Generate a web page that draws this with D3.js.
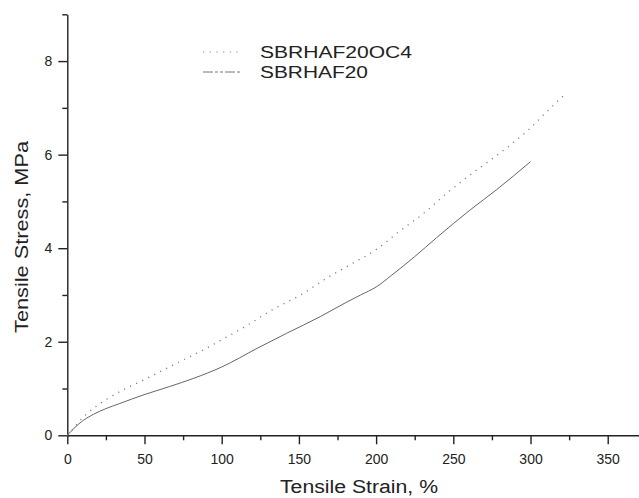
<!DOCTYPE html>
<html>
<head>
<meta charset="utf-8">
<script src="https://cdn.jsdelivr.net/npm/d3@7"></script>
<style>
  body { margin: 0; background: #fff; }
  svg { display: block; }
  .axis path, .axis line { stroke: #222; stroke-width: 1.4; }
  .axis text { font-family: "Liberation Sans", Arial, sans-serif; font-size: 14px; fill: #222; }
</style>
</head>
<body>
<script>
// strain (%) and stress (MPa)
var oc4Strain = [0, 3, 10, 17, 25, 36, 48, 60, 75, 86, 101, 117, 131, 151, 170, 185, 200, 215, 231, 246, 261, 276, 284, 299, 310, 321];
var oc4Stress = [0, 0.11, 0.38, 0.58, 0.76, 0.97, 1.16, 1.36, 1.61, 1.79, 2.06, 2.36, 2.65, 3.0, 3.4, 3.68, 3.97, 4.36, 4.75, 5.18, 5.57, 5.93, 6.13, 6.54, 6.9, 7.25];
var refStrain = [0, 5, 10, 17, 25, 34, 49, 66, 82, 100, 123, 142, 164, 180, 190, 200, 210, 225, 239, 261, 278, 300];
var refStress = [0, 0.17, 0.31, 0.45, 0.57, 0.68, 0.86, 1.04, 1.22, 1.46, 1.86, 2.18, 2.54, 2.83, 3.0, 3.17, 3.42, 3.82, 4.22, 4.82, 5.25, 5.85];
var seriesNames = ["SBRHAF20OC4", "SBRHAF20"];
var xTicks = [0, 50, 100, 150, 200, 250, 300, 350];
var xMinor = [25, 75, 125, 175, 225, 275, 325];
var yTicks = [0, 2, 4, 6, 8];
var yMinor = [1, 3, 5, 7, 9];

var width = 639, height = 498;
var margin = { top: 14.3, right: 0.4, bottom: 62.7, left: 67.3 };

var svg = d3.select("body").append("svg")
    .attr("width", width)
    .attr("height", height);

var xScale = d3.scaleLinear()
    .domain([0, 370])
    .range([margin.left, width - margin.right]);

var yScale = d3.scaleLinear()
    .domain([0, 9])
    .range([height - margin.bottom, margin.top]);

function pairs(xs, ys) {
    return xs.map(function(x, i) { return { x: x, y: ys[i] }; });
}

var line = d3.line()
    .x(function(d) { return xScale(d.x); })
    .y(function(d) { return yScale(d.y); })
    .curve(d3.curveMonotoneX);

// minor ticks first
svg.append("g")
    .attr("class", "axis")
    .attr("transform", "translate(0," + yScale(0) + ")")
    .call(d3.axisBottom(xScale).tickValues(xMinor).tickSize(5).tickFormat(""))
    .select(".domain").remove();

svg.append("g")
    .attr("class", "axis")
    .attr("transform", "translate(" + xScale(0) + ",0)")
    .call(d3.axisLeft(yScale).tickValues(yMinor).tickSize(5).tickFormat(""))
    .select(".domain").remove();

svg.append("g")
    .attr("class", "axis")
    .attr("transform", "translate(0," + yScale(0) + ")")
    .call(d3.axisBottom(xScale).tickValues(xTicks).tickSize(9).tickSizeOuter(0).tickPadding(10));

svg.append("g")
    .attr("class", "axis")
    .attr("transform", "translate(" + xScale(0) + ",0)")
    .call(d3.axisLeft(yScale).tickValues(yTicks).tickSize(9).tickSizeOuter(0).tickPadding(6));

// curves
svg.append("path")
    .datum(pairs(oc4Strain, oc4Stress))
    .attr("fill", "none")
    .attr("stroke", "#808080")
    .attr("stroke-width", 1.3)
    .attr("stroke-dasharray", "1.2,5.5")
    .attr("d", line);

svg.append("path")
    .datum(pairs(refStrain, refStress))
    .attr("fill", "none")
    .attr("stroke", "#666")
    .attr("stroke-width", 1)
    .attr("d", line);

// legend
var legend = svg.append("g");
legend.append("line")
    .attr("x1", 203).attr("x2", 242).attr("y1", 52).attr("y2", 52)
    .attr("stroke", "#888").attr("stroke-width", 1.2)
    .attr("stroke-dasharray", "1.2,5.5");
legend.append("line")
    .attr("x1", 203).attr("x2", 242).attr("y1", 72).attr("y2", 72)
    .attr("stroke", "#777").attr("stroke-width", 1)
    .attr("stroke-dasharray", "10,2,3,2,3,2");

legend.selectAll("text.leg")
    .data(seriesNames)
    .enter().append("text")
    .attr("class", "leg")
    .attr("x", 260)
    .attr("y", function(d, i) { return 57.5 + i * 20; })
    .attr("textLength", function(d, i) { return i === 0 ? 152 : 108; })
    .attr("lengthAdjust", "spacingAndGlyphs")
    .attr("font-family", "Liberation Sans, Arial, sans-serif")
    .attr("font-size", 16)
    .attr("fill", "#222")
    .text(function(d) { return d; });

// axis titles
svg.append("text")
    .attr("x", 280)
    .attr("y", 493)
    .attr("textLength", 158)
    .attr("lengthAdjust", "spacingAndGlyphs")
    .attr("font-family", "Liberation Sans, Arial, sans-serif")
    .attr("font-size", 18)
    .attr("fill", "#222")
    .text("Tensile Strain, %");

svg.append("text")
    .attr("transform", "translate(28,237) rotate(-90)")
    .attr("text-anchor", "middle")
    .attr("textLength", 192)
    .attr("lengthAdjust", "spacingAndGlyphs")
    .attr("font-family", "Liberation Sans, Arial, sans-serif")
    .attr("font-size", 19)
    .attr("fill", "#222")
    .text("Tensile Stress, MPa");
</script>
</body>
</html>
